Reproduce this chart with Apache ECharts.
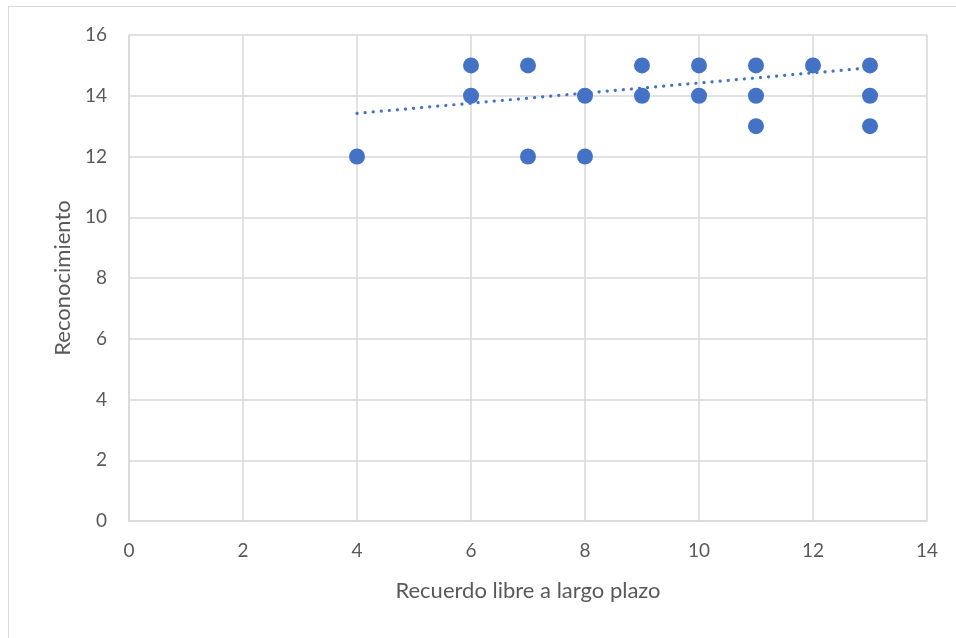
<!DOCTYPE html>
<html>
<head>
<meta charset="utf-8">
<script src="https://cdn.jsdelivr.net/npm/echarts@6/dist/echarts.min.js"></script>
<style>
  html, body { margin: 0; padding: 0; background: #fff; }
  #frame { position: absolute; left: 8px; top: 6px; width: 980px; height: 700px; border: 1px solid #d9d9d9; }
  #chart { position: absolute; left: 0; top: 0; width: 956px; height: 638px; }
</style>
</head>
<body>
<div id="frame"></div>
<div id="chart"></div>
<script>
// Recall scores (x) vs recognition scores (y)
const recuerdo = [4, 6, 6, 7, 7, 8, 8, 9, 9, 10, 10, 11, 11, 11, 12, 13, 13, 13];
const reconocimiento = [12, 15, 14, 15, 12, 14, 12, 15, 14, 15, 14, 15, 14, 13, 15, 15, 14, 13];
// Linear trend line endpoints
const trendX = [4, 13];
const trendY = [13.42, 14.92];
const xTicks = [0, 2, 4, 6, 8, 10, 12, 14];
const yTicks = [0, 2, 4, 6, 8, 10, 12, 14, 16];

const points = recuerdo.map((x, i) => [x, reconocimiento[i]]);
const trend = trendX.map((x, i) => [x, trendY[i]]);

const font = 'Lato, "Open Sans", sans-serif';
const chart = echarts.init(document.getElementById('chart'), null, { renderer: 'canvas' });
chart.setOption({
  animation: false,
  grid: { left: 129, right: 29, top: 35, bottom: 117 },
  xAxis: {
    type: 'value', min: xTicks[0], max: xTicks[xTicks.length - 1], interval: 2,
    name: 'Recuerdo libre a largo plazo', nameLocation: 'middle', nameGap: 59,
    nameTextStyle: { color: '#595959', fontSize: 22, fontFamily: font },
    axisLine: { show: true, lineStyle: { color: '#d9d9d9', width: 1.5 } },
    axisTick: { show: false },
    axisLabel: { color: '#595959', fontSize: 19, fontFamily: font, margin: 20 },
    splitLine: { show: true, lineStyle: { color: '#d9d9d9', width: 1.5 } }
  },
  yAxis: {
    type: 'value', min: yTicks[0], max: yTicks[yTicks.length - 1], interval: 2,
    name: 'Reconocimiento', nameLocation: 'middle', nameGap: 55, nameRotate: 90,
    nameTextStyle: { color: '#595959', fontSize: 22, fontFamily: font },
    axisLine: { show: true, lineStyle: { color: '#d9d9d9', width: 1.5 } },
    axisTick: { show: false },
    axisLabel: { color: '#595959', fontSize: 19, fontFamily: font, margin: 22 },
    splitLine: { show: true, lineStyle: { color: '#d9d9d9', width: 1.5 } }
  },
  series: [
    {
      type: 'line', data: trend, symbol: 'none', z: 3,
      lineStyle: { color: '#4472C4', width: 3.2, type: [0.1, 8], cap: 'round' }
    },
    {
      type: 'scatter', data: points, symbolSize: 16, z: 2,
      itemStyle: { color: '#4472C4', opacity: 1 }
    }
  ]
});
</script>
</body>
</html>
